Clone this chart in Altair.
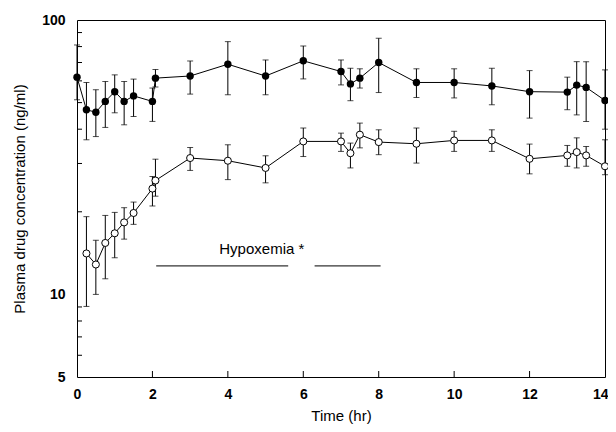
import altair as alt
import pandas as pd

# ---- data ----
t_filled = [0, 0.25, 0.5, 0.75, 1, 1.25, 1.5, 2, 2.08, 3, 4, 5, 6, 7, 7.25, 7.5, 8, 9, 10, 11, 12, 13, 13.25, 13.5, 14]
c_filled = [61.9, 47.1, 46.1, 50.5, 54.8, 50.5, 52.9, 50.5, 61.4, 62.5, 69.0, 62.5, 71.0, 64.9, 58.5, 61.4, 70.0, 59.2, 59.2, 57.5, 54.8, 54.6, 57.9, 56.8, 50.9]
hi_filled = [81.1, 59.2, 55.7, 59.7, 63.1, 59.7, 60.9, 56.5, 66.0, 70.9, 83.4, 71.5, 80.4, 71.5, 66.7, 66.4, 85.8, 66.4, 66.4, 66.7, 65.4, 61.9, 70.5, 70.5, 65.8]
lo_filled = [51.2, 36.6, 37.6, 40.6, 45.9, 41.5, 44.5, 42.7, 57.0, 53.7, 53.4, 53.4, 61.0, 58.0, 50.8, 56.5, 54.4, 52.2, 52.0, 49.1, 43.9, 47.1, 45.1, 42.7, 40.0]

t_open = [0.25, 0.5, 0.75, 1, 1.25, 1.5, 2, 2.08, 3, 4, 5, 6, 7, 7.25, 7.5, 8, 9, 10, 11, 12, 13, 13.25, 13.5, 14]
c_open = [14.1, 12.85, 15.4, 16.7, 18.3, 19.8, 24.3, 26.0, 31.4, 30.7, 28.9, 36.1, 36.1, 32.7, 38.2, 35.9, 35.4, 36.4, 36.4, 31.2, 32.1, 33.0, 32.1, 29.3]
hi_open = [19.2, 15.75, 19.4, 19.9, 20.7, 21.7, 26.9, 31.1, 34.3, 35.1, 32.0, 40.4, 38.7, 35.6, 42.1, 39.8, 40.4, 39.3, 39.8, 35.3, 34.9, 37.2, 34.6, 36.6]
lo_open = [9.04, 10.0, 11.4, 13.6, 15.9, 18.0, 21.0, 22.8, 28.3, 26.2, 25.5, 31.8, 33.2, 28.9, 34.2, 32.3, 30.1, 33.2, 33.2, 27.5, 29.3, 28.9, 29.3, 27.3]

x_ticks = [0, 2, 4, 6, 8, 10, 12, 14]
y_labels = [5, 10, 100]
y_minor = [6, 7, 8, 9, 20, 30, 40, 50, 60, 70, 80, 90]
x_minor = [2, 4, 6, 8, 10, 12]

hyp_text = ["Hypoxemia *"]
hyp_text_t = [4.9]
hyp_text_c = [14.6]
hyp_start = [2.1, 6.3]
hyp_end = [5.6, 8.05]
hyp_level = [12.7, 12.7]

FONT = "Liberation Sans"

df_f = pd.DataFrame({"t": t_filled, "c": c_filled, "hi": hi_filled, "lo": lo_filled, "s": "filled"})
df_o = pd.DataFrame({"t": t_open, "c": c_open, "hi": hi_open, "lo": lo_open, "s": "open"})
df = pd.concat([df_f, df_o], ignore_index=True)

xs = alt.Scale(domain=[0, 14], nice=False)
ys = alt.Scale(type="log", domain=[5, 100], nice=False)

X = alt.X("t:Q", scale=xs,
          axis=alt.Axis(values=x_ticks, title="Time (hr)", labelFont=FONT, labelFontSize=14,
                        labelFontWeight="bold", labelPadding=10, titleFont=FONT, titleFontSize=15,
                        titleFontWeight="normal", titlePadding=7, ticks=False, domain=False,
                        grid=False, labelColor="black", titleColor="black", labelFlush=False,
                        labelAlign={"expr": "datum.value == 14 ? 'right' : 'center'"},
                        labelOffset={"expr": "datum.value == 14 ? 3 : 0"}))
Y = alt.Y("c:Q", scale=ys,
          axis=alt.Axis(values=y_labels, format="d", title="Plasma drug concentration (ng/ml)",
                        labelFont=FONT, labelFontSize=14, labelFontWeight="bold", labelPadding=12,
                        titleFont=FONT, titleFontSize=15, titleFontWeight="normal", titlePadding=14,
                        ticks=False, domain=False, grid=False, labelColor="black", titleColor="black",
                        labelFlush=False))

base = alt.Chart(df)

bars = base.mark_rule(color="black", strokeWidth=1).encode(
    x=alt.X("t:Q", scale=xs), y=alt.Y("lo:Q", scale=ys), y2="hi:Q")
cap_hi = base.mark_tick(orient="horizontal", size=6, thickness=1, color="black").encode(
    x=alt.X("t:Q", scale=xs), y=alt.Y("hi:Q", scale=ys))
cap_lo = base.mark_tick(orient="horizontal", size=6, thickness=1, color="black").encode(
    x=alt.X("t:Q", scale=xs), y=alt.Y("lo:Q", scale=ys))
lines = base.mark_line(color="black", strokeWidth=1).encode(x=X, y=Y, detail="s:N")

pts_f = alt.Chart(df_f).mark_point(shape="circle", filled=True, color="black", size=55, opacity=1).encode(
    x=alt.X("t:Q", scale=xs), y=alt.Y("c:Q", scale=ys))
pts_o = alt.Chart(df_o).mark_point(shape="circle", filled=True, fill="white", stroke="black",
                                  strokeWidth=1, size=50, opacity=1).encode(
    x=alt.X("t:Q", scale=xs), y=alt.Y("c:Q", scale=ys))

df_ym = pd.DataFrame({"v": y_minor})
yticks = alt.Chart(df_ym).mark_rule(color="black", strokeWidth=1).encode(
    y=alt.Y("v:Q", scale=ys), x=alt.value(0), x2=alt.value(5))
df_xm = pd.DataFrame({"v": x_minor})
xticks = alt.Chart(df_xm).mark_rule(color="black", strokeWidth=1).encode(
    x=alt.X("v:Q", scale=xs), y=alt.value(357), y2=alt.value(351))

df_ht = pd.DataFrame({"label": hyp_text, "t": hyp_text_t, "c": hyp_text_c})
htext = alt.Chart(df_ht).mark_text(font=FONT, fontSize=15, color="black", align="center",
                                   baseline="middle").encode(
    x=alt.X("t:Q", scale=xs), y=alt.Y("c:Q", scale=ys), text="label:N")
df_hl = pd.DataFrame({"a": hyp_start, "b": hyp_end, "c": hyp_level})
hlines = alt.Chart(df_hl).mark_rule(color="black", strokeWidth=1).encode(
    x=alt.X("a:Q", scale=xs), x2="b:Q", y=alt.Y("c:Q", scale=ys))

chart = alt.layer(lines, bars, cap_hi, cap_lo, pts_f, pts_o, yticks, xticks, htext, hlines).properties(
    width=528, height=357,
    autosize=alt.AutoSizeParams(type="none"),
    padding={"left": 69, "top": 12, "right": 3, "bottom": 47},
    background="white",
).configure_view(stroke="black", strokeWidth=1)

chart.save("out.html", embed_options={"renderer": "svg", "actions": False})
